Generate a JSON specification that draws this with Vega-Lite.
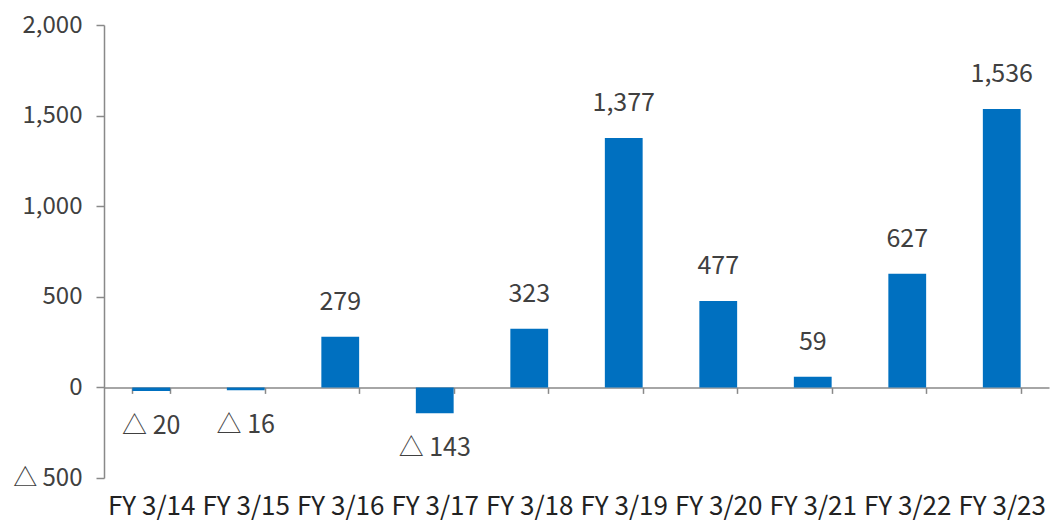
{
  "$schema": "https://vega.github.io/schema/vega-lite/v6.json",
  "width": 945,
  "height": 453,
  "autosize": {"type": "none"},
  "padding": {"left": 104, "top": 25, "right": 2, "bottom": 44},
  "config": {
    "view": {"stroke": null},
    "font": "Noto Sans CJK JP",
    "axis": {"labelFont": "Noto Sans CJK JP", "labelColor": "#404040", "domainColor": "#898989", "tickColor": "#898989", "domainWidth": 1.5, "tickWidth": 1.5, "grid": false, "title": null}
  },
  "data": {
    "values": [
      {"fy": "FY 3/14", "value": -20},
      {"fy": "FY 3/15", "value": -16},
      {"fy": "FY 3/16", "value": 279},
      {"fy": "FY 3/17", "value": -143},
      {"fy": "FY 3/18", "value": 323},
      {"fy": "FY 3/19", "value": 1377},
      {"fy": "FY 3/20", "value": 477},
      {"fy": "FY 3/21", "value": 59},
      {"fy": "FY 3/22", "value": 627},
      {"fy": "FY 3/23", "value": 1536}
    ]
  },
  "encoding": {
    "x": {
      "field": "fy", "type": "nominal", "sort": null,
      "scale": {"paddingInner": 0.6, "paddingOuter": 0.3},
      "axis": {"labelAngle": 0, "labelFontSize": 26, "offset": -90.6, "tickBand": "extent", "tickSize": 6, "labelPadding": 100, "labelColor": "#222222", "labelOverlap": false}
    },
    "y": {
      "field": "value", "type": "quantitative",
      "scale": {"domain": [-500, 2000], "nice": false},
      "axis": {"values": [-500, 0, 500, 1000, 1500, 2000], "labelFontSize": 24, "tickSize": 8, "labelPadding": 14,
               "labelExpr": "datum.value < 0 ? '△ ' + format(-datum.value, ',') : format(datum.value, ',')"}
    }
  },
  "layer": [
    {"mark": {"type": "bar", "color": "#0070C0"}},
    {
      "transform": [{"filter": "datum.value >= 0"}, {"calculate": "format(datum.value, ',')", "as": "lbl"}],
      "mark": {"type": "text", "dy": -35, "fontSize": 25, "color": "#404040", "baseline": "middle"},
      "encoding": {"text": {"field": "lbl"}}
    },
    {
      "transform": [{"filter": "datum.value < 0"}, {"calculate": "'△ ' + format(-datum.value, ',')", "as": "lbl"}],
      "mark": {"type": "text", "dy": 35, "fontSize": 25, "color": "#404040", "baseline": "middle"},
      "encoding": {"text": {"field": "lbl"}}
    }
  ]
}
